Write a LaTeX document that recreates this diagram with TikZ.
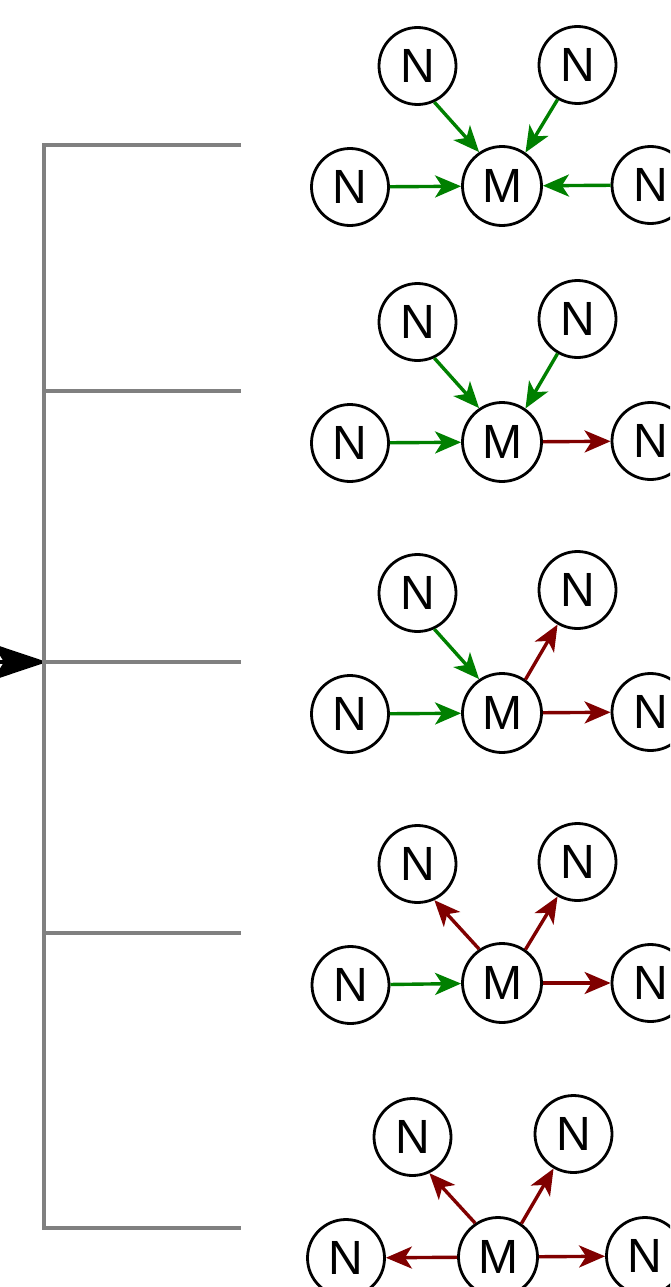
\documentclass[tikz,border=0pt]{standalone}
\usepackage{fontspec}
\newfontfamily\vertfont{Liberation Sans}
\usepackage{tikz}
\usetikzlibrary{arrows.meta}

\definecolor{ingreen}{RGB}{0,128,0}
\definecolor{outred}{RGB}{128,0,0}
\definecolor{treegray}{RGB}{128,128,128}

\begin{document}
\begin{tikzpicture}[x=1pt,y=1pt,yscale=-1,xscale=1,
    vert/.style={circle,draw,line width=2.8pt,minimum size=77pt,inner sep=0pt,font=\vertfont\fontsize{48}{48}\selectfont},
    hub/.style={vert,minimum size=79pt},
    inflow/.style={draw=ingreen,line width=3.4pt,-{Stealth[length=26pt,width=22pt,inset=7pt]}},
    outflow/.style={draw=outred,line width=3.4pt,-{Stealth[length=26pt,width=22pt,inset=7pt]}},
    branch/.style={draw=treegray,line width=3.2pt}]
    \useasboundingbox (0,0) rectangle (670,1287);
    \clip (0,0) rectangle (670,1287);

    %Tree: junctions and leaves
    \coordinate (j1) at (44,145);
    \coordinate (j2) at (44,391);
    \coordinate (j3) at (44,662);
    \coordinate (j4) at (44,933);
    \coordinate (j5) at (44,1228);
    \coordinate (b1) at (241,145);
    \coordinate (b2) at (241,391);
    \coordinate (b3) at (241,662);
    \coordinate (b4) at (241,933);
    \coordinate (b5) at (241,1228);
    \coordinate (src) at (-90,662);

    %Straight Lines: incoming arrow
    \draw [line width=3.4pt,-{Stealth[length=54pt,width=36pt,inset=11pt]}] (src) -- ([xshift=3pt]j3) ;
    %Straight Lines: tree
    \draw [branch] (b1) -- (j1) -- (j5) -- (b5) ;
    \draw [branch] (j2) -- (b2) ;
    \draw [branch] (j3) -- (b3) ;
    \draw [branch] (j4) -- (b4) ;

    % Row 1
    \node [hub] (m1) at (502,186) {M};
    \node [vert] (tl1) at (417.5,66) {N};
    \node [vert] (tr1) at (577.5,65) {N};
    \node [vert] (l1) at (350,187) {N};
    \node [vert] (r1) at (650.5,185) {N};
    \draw [inflow] (tl1.-65) -- (m1.124) ;
    \draw [inflow] (tr1.240) -- (m1.55) ;
    \draw [inflow] (l1) -- (m1) ;
    \draw [inflow] (r1) -- (m1) ;

    % Row 2
    \node [hub] (m2) at (502,442) {M};
    \node [vert] (tl2) at (417.5,322) {N};
    \node [vert] (tr2) at (577.5,319) {N};
    \node [vert] (l2) at (350,443) {N};
    \node [vert] (r2) at (650.5,441) {N};
    \draw [inflow] (tl2.-65) -- (m2.124) ;
    \draw [inflow] (tr2.240) -- (m2.55) ;
    \draw [inflow] (l2) -- (m2) ;
    \draw [outflow] (m2) -- (r2) ;

    % Row 3
    \node [hub] (m3) at (502,713) {M};
    \node [vert] (tl3) at (417.5,593) {N};
    \node [vert] (tr3) at (577.5,590) {N};
    \node [vert] (l3) at (350,714) {N};
    \node [vert] (r3) at (650.5,712) {N};
    \draw [inflow] (tl3.-65) -- (m3.124) ;
    \draw [outflow] (m3.55) -- (tr3.240) ;
    \draw [inflow] (l3) -- (m3) ;
    \draw [outflow] (m3) -- (r3) ;

    % Row 4
    \node [hub] (m4) at (502,983) {M};
    \node [vert] (tl4) at (417.5,864) {N};
    \node [vert] (tr4) at (577.5,862) {N};
    \node [vert] (l4) at (350.5,985) {N};
    \node [vert] (r4) at (650.5,983) {N};
    \draw [outflow] (m4.124) -- (tl4.-65) ;
    \draw [outflow] (m4.55) -- (tr4.240) ;
    \draw [inflow] (l4) -- (m4) ;
    \draw [outflow] (m4) -- (r4) ;

    % Row 5
    \node [hub] (m5) at (498,1257) {M};
    \node [vert] (tl5) at (412.5,1137) {N};
    \node [vert] (tr5) at (573.5,1134) {N};
    \node [vert] (l5) at (346,1258) {N};
    \node [vert] (r5) at (645,1256) {N};
    \draw [outflow] (m5.124) -- (tl5.-65) ;
    \draw [outflow] (m5.55) -- (tr5.240) ;
    \draw [outflow] (m5) -- (l5) ;
    \draw [outflow] (m5) -- (r5) ;

\end{tikzpicture}
\end{document}
